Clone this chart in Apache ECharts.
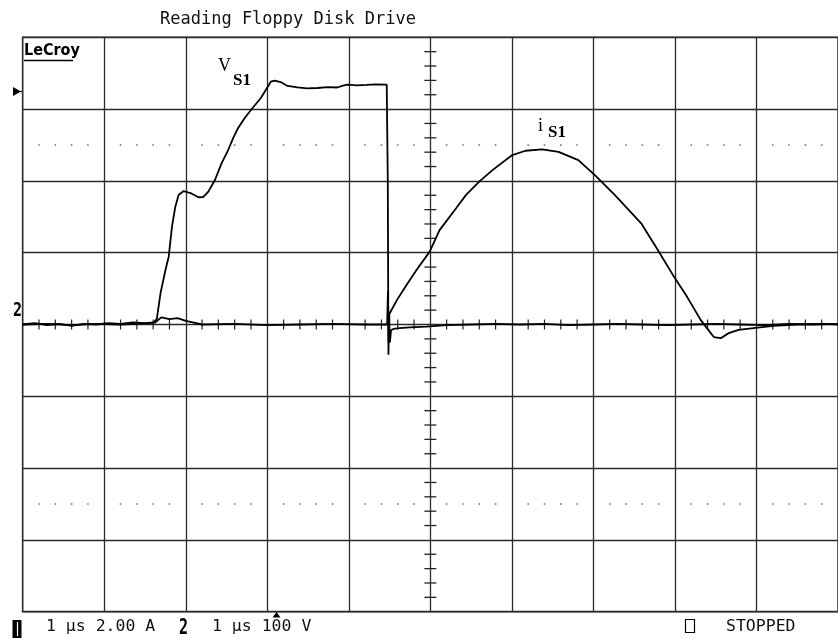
<!DOCTYPE html>
<html>
<head>
<meta charset="utf-8">
<script src="https://cdn.jsdelivr.net/npm/echarts@6/dist/echarts.min.js"></script>
<style>html,body{margin:0;padding:0;background:#fff;}#c{width:838px;height:641px;}</style>
</head>
<body>
<div id="c"></div>
<script>
// ---- Data (time in µs, channel 2 voltage in V, channel 1 current in A) ----
const vTime  = [0, 0.15, 0.3, 0.45, 0.6, 0.75, 0.9, 1.05, 1.2, 1.35, 1.5, 1.608, 1.645, 1.690, 1.751, 1.791, 1.831, 1.872, 1.912, 1.973, 2.058, 2.155, 2.216, 2.277, 2.358, 2.439, 2.520, 2.581, 2.642, 2.723, 2.800, 2.921, 3.006, 3.043, 3.091, 3.164, 3.249, 3.371, 3.49, 3.614, 3.74, 3.857, 3.918, 3.979, 4.10, 4.222, 4.33, 4.465, 4.478, 4.486, 4.494, 4.504, 4.518, 4.55, 4.62, 4.75, 4.95, 5.2, 5.5, 5.8, 6.1, 6.4, 6.7, 7.0, 7.3, 7.6, 7.9, 8.2, 8.5, 8.8, 9.1, 9.4, 9.7, 10];
const vVolts = [0, 2, -1, 1, -2, 1, 0, 2, 1, 3, 2, 3, 8, 43.5, 75.9, 94.4, 136.2, 164.1, 180.4, 185.9, 183.1, 177.2, 177.6, 185, 201.3, 224.5, 243, 259.7, 273.7, 287.6, 298.7, 315.5, 331.2, 338.2, 339.6, 337.7, 332.2, 330.4, 329, 329.4, 330.5, 330.1, 332.2, 334, 333, 333.6, 334.5, 334, 200, -42, 12, -25, -8, -6, -5, -4, -3, -1, 0, 1, 0, 1, -1, 0, 1, 0, -1, 0, 1, 0, -1, 1, 0, 1];

const iTime = [0, 0.3, 0.6, 0.9, 1.2, 1.5, 1.62, 1.70, 1.80, 1.90, 2.00, 2.10, 2.2, 2.6, 3.0, 3.4, 3.8, 4.2, 4.47, 4.48, 4.488, 4.498, 4.52, 4.595, 4.708, 4.830, 4.992, 5.113, 5.316, 5.438, 5.599, 5.762, 6.005, 6.167, 6.370, 6.572, 6.815, 7.018, 7.261, 7.586, 7.788, 7.991, 8.149, 8.315, 8.392, 8.477, 8.562, 8.659, 8.781, 8.963, 9.206, 9.5, 9.8, 10];
const iAmps = [0, 0.02, -0.02, 0.02, 0, 0.03, 0.05, 0.2, 0.15, 0.18, 0.1, 0.05, 0, 0.02, -0.02, 0, 0.02, 0, 0, 0.93, -0.5, 0.3, 0.34, 0.7, 1.10, 1.52, 2.03, 2.63, 3.24, 3.61, 3.98, 4.30, 4.72, 4.84, 4.88, 4.81, 4.58, 4.16, 3.61, 2.82, 2.08, 1.32, 0.77, 0.13, -0.10, -0.35, -0.38, -0.24, -0.15, -0.10, -0.04, 0, 0.02, 0];

// graticule minor positions (fractions of a division)
const minorFrac = [0.2, 0.4, 0.6, 0.8];
const xDivs = [0,1,2,3,4,5,6,7,8,9];
const yDivs = [-4,-3,-2,-1,0,1,2,3];
const dotRows = [250, -250]; // volts, i.e. +/-2.5 div

const vData = vTime.map((t, k) => [t, vVolts[k]]);
const iData = iTime.map((t, k) => [t, iAmps[k]]);

const grat = [];
yDivs.forEach(d => minorFrac.forEach(f => grat.push([0, 5, (d + f) * 100])));      // centre vertical axis ticks
xDivs.forEach(d => minorFrac.forEach(f => grat.push([1, d + f, 0])));              // centre horizontal axis ticks
dotRows.forEach(r => xDivs.forEach(d => minorFrac.forEach(f => grat.push([2, d + f, r])))); // dotted rows

const chart = echarts.init(document.getElementById('c'), null, {renderer: 'canvas'});
const mono = '"DejaVu Sans Mono", monospace';
chart.setOption({
  animation: false,
  backgroundColor: '#fff',
  grid: {left: 22.7, right: -7.3, top: 37.3, bottom: 29.3, show: true, borderColor: '#2a2a2a', borderWidth: 1.4, backgroundColor: 'transparent'},
  xAxis: {type: 'value', min: 0, max: 10, interval: 1,
    axisLine: {show: false}, axisTick: {show: false}, axisLabel: {show: false},
    splitLine: {show: true, lineStyle: {color: '#2a2a2a', width: 1.3}}},
  yAxis: [
    {type: 'value', min: -400, max: 400, interval: 100,
      axisLine: {show: false}, axisTick: {show: false}, axisLabel: {show: false},
      splitLine: {show: true, lineStyle: {color: '#2a2a2a', width: 1.3}}},
    {type: 'value', min: -8, max: 8, interval: 2, show: false, splitLine: {show: false}}
  ],
  series: [
    {type: 'custom', xAxisIndex: 0, yAxisIndex: 0, silent: true, data: grat, z: 1,
      dimensions: ['kind', 'x', 'y'],
      encode: {x: 1, y: 2},
      renderItem: function (params, api) {
        const kind = api.value(0);
        const p = api.coord([api.value(1), api.value(2)]);
        if (kind === 0) {
          return {type: 'line', shape: {x1: p[0] - 6, y1: p[1], x2: p[0] + 6, y2: p[1]}, style: {stroke: '#222', lineWidth: 1.3}};
        } else if (kind === 1) {
          return {type: 'line', shape: {x1: p[0], y1: p[1] - 5, x2: p[0], y2: p[1] + 5}, style: {stroke: '#222', lineWidth: 1.2}};
        }
        return {type: 'rect', shape: {x: p[0] - 0.8, y: p[1] - 0.8, width: 1.6, height: 1.6}, style: {fill: '#777'}};
      }},
    {type: 'line', name: 'V_S1', xAxisIndex: 0, yAxisIndex: 0, data: vData, showSymbol: false, z: 3,
      lineStyle: {color: '#000', width: 1.8}},
    {type: 'line', name: 'i_S1', xAxisIndex: 0, yAxisIndex: 1, data: iData, showSymbol: false, z: 3,
      lineStyle: {color: '#000', width: 1.8}}
  ],
  graphic: [
    {type: 'text', left: 160, top: 11, style: {text: 'Reading Floppy Disk Drive', font: '17px ' + mono, fill: '#111'}},
    {type: 'text', x: 24, y: 51, style: {text: 'LeCroy', font: 'bold 16px "DejaVu Sans Condensed", "DejaVu Sans"', fill: '#000', verticalAlign: 'middle'}},
    {type: 'line', shape: {x1: 24, y1: 60.5, x2: 73, y2: 60.5}, style: {stroke: '#000', lineWidth: 1.5}},
    {type: 'text', x: 218, y: 66, style: {text: 'V', font: '18px "Liberation Serif", serif', fill: '#000', verticalAlign: 'middle'}},
    {type: 'text', x: 233, y: 80.5, style: {text: 'S1', font: 'bold 17px "Liberation Serif", serif', fill: '#000', verticalAlign: 'middle'}},
    {type: 'text', x: 538, y: 126, style: {text: 'i', font: '18px "Liberation Serif", serif', fill: '#000', verticalAlign: 'middle'}},
    {type: 'text', x: 548, y: 132.5, style: {text: 'S1', font: 'bold 17px "Liberation Serif", serif', fill: '#000', verticalAlign: 'middle'}},
    // left markers
    {type: 'polygon', shape: {points: [[13, 87], [13, 96], [21, 91.5]]}, style: {fill: '#000'}},
    {type: 'line', shape: {x1: 20, y1: 91.5, x2: 23, y2: 91.5}, style: {stroke: '#000', lineWidth: 1.2}},
    {type: 'text', x: 13, y: 311, scaleY: 1.35, style: {text: '2', font: 'bold 15px ' + mono, fill: '#000', verticalAlign: 'middle'}},
    // trigger marker
    {type: 'polygon', shape: {points: [[272.5, 617.5], [280.5, 617.5], [276.5, 612]]}, style: {fill: '#000'}},
    // bottom status line
    {type: 'rect', shape: {x: 12.5, y: 620, width: 9, height: 18}, style: {fill: '#000'}},
    {type: 'line', shape: {x1: 17.5, y1: 622, x2: 17.5, y2: 636}, style: {stroke: '#fff', lineWidth: 1.2}},
    {type: 'text', x: 46, y: 627, style: {text: '1 μs 2.00 A', font: '16.5px ' + mono, fill: '#111', verticalAlign: 'middle'}},
    {type: 'text', x: 179, y: 629, scaleY: 1.4, style: {text: '2', font: 'bold 15px ' + mono, fill: '#000', verticalAlign: 'middle'}},
    {type: 'text', x: 212, y: 627, style: {text: '1 μs 100 V', font: '16.5px ' + mono, fill: '#111', verticalAlign: 'middle'}},
    {type: 'rect', shape: {x: 685.5, y: 619.5, width: 9, height: 13}, style: {fill: 'none', stroke: '#000', lineWidth: 1.2}},
    {type: 'text', x: 726, y: 627, style: {text: 'STOPPED', font: '16.5px ' + mono, fill: '#111', verticalAlign: 'middle'}}
  ]
});
</script>
</body>
</html>
